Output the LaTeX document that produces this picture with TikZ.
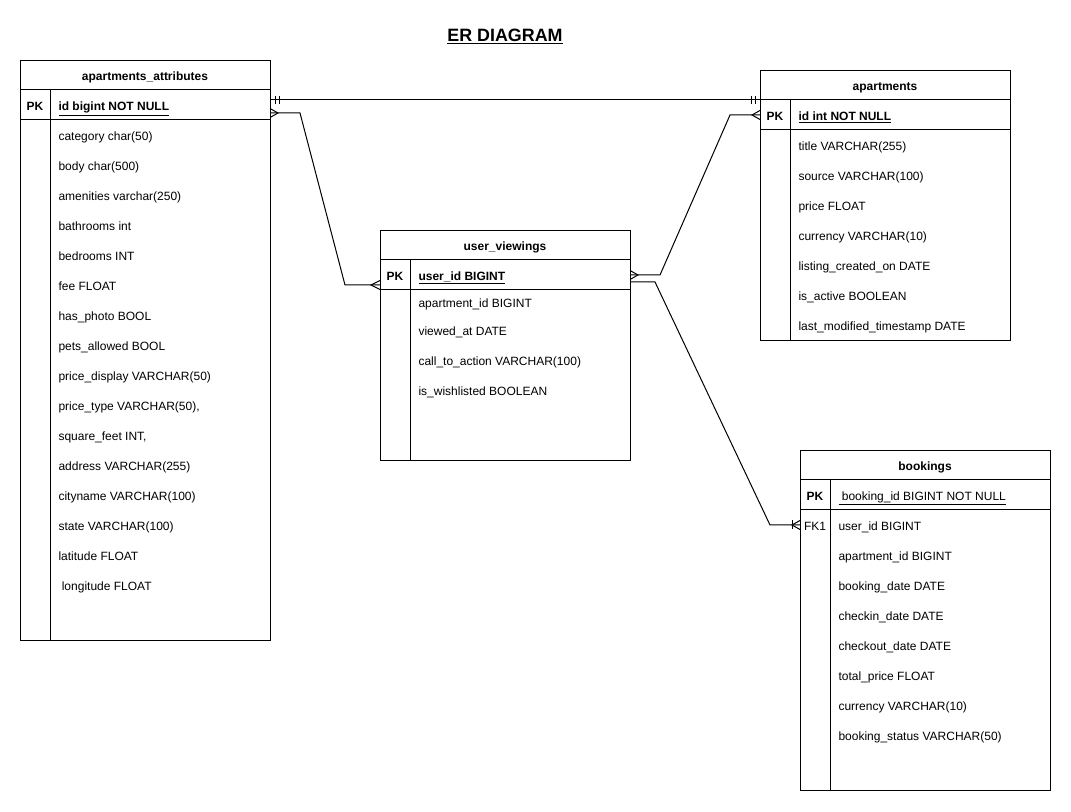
\documentclass[tikz,border=0pt]{standalone}
\usepackage{fontspec}
\setmainfont{Liberation Sans}
\usetikzlibrary{calc}
\newcommand\ertable[7]{% #1 name, #2 x, #3 y, #4 height px, #5 title, #6 key label, #7 key text
  \node[frame, minimum height={#4*0.75pt}] (#1) at (#2,#3) {};
  \draw (#2,#3+30) -- ++(250,0);
  \draw (#2,#3+60) -- ++(250,0);
  \draw (#2+30,#3+30) -- (#2+30,#3+#4);
  \node[hdr] (#1-title) at (#2+125,#3+15) {#5};
  \node[hdr] (#1-pk) at (#2+15,#3+45) {#6};
  \node[txt] (#1-key) at (#2+38,#3+45) {#7};
}
% crow's foot: #1 end point, #2 signed length towards the tip
\newcommand\crowfoot[2]{%
  \draw ($(#1)+(0,-4.5)$) -- ($(#1)+(#2,0)$) -- ($(#1)+(0,4.5)$);
}
\begin{document}
\begin{tikzpicture}[x=0.75pt,y=-0.75pt, line width=0.75pt,
  frame/.style={draw, anchor=north west, minimum width=187.5pt, inner sep=0},
  txt/.style={anchor=west, inner sep=0, yshift=-1.7pt, font=\fontsize{9}{11}\selectfont, text height=6.6pt, text depth=1.9pt},
  hdr/.style={inner sep=0, yshift=-1.7pt, font=\bfseries\fontsize{9}{11}\selectfont, text height=6.6pt, text depth=1.9pt}]
\useasboundingbox (0,0) rectangle (1071,812);

\node[font=\bfseries\fontsize{13.4}{15}\selectfont, inner sep=0, yshift=-1.4pt] (title) at (505,35) {\underline{ER DIAGRAM}};

% apartments_attributes
\ertable{aa}{20}{60}{580}{apartments\_attributes}{PK}{\textbf{\underline{id bigint NOT NULL}}}
\foreach \t [count=\i] in {category char(50), body char(500), amenities varchar(250), bathrooms int, bedrooms INT, fee FLOAT, has\_photo BOOL, pets\_allowed BOOL, price\_display VARCHAR(50), {price\_type VARCHAR(50),}, {square\_feet INT,}, address VARCHAR(255), cityname VARCHAR(100), state VARCHAR(100), latitude FLOAT, \ longitude FLOAT}
  \node[txt] (aa-r\i) at (58,105+30*\i) {\t};

% apartments
\ertable{ap}{760}{70}{270}{apartments}{PK}{\textbf{\underline{id int NOT NULL}}}
\foreach \t [count=\i] in {title VARCHAR(255), source VARCHAR(100), price FLOAT, currency VARCHAR(10), listing\_created\_on DATE, is\_active BOOLEAN, last\_modified\_timestamp DATE}
  \node[txt] (ap-r\i) at (798,115+30*\i) {\t};

% user_viewings
\ertable{uv}{380}{230}{230}{user\_viewings}{PK}{\textbf{\underline{user\_id BIGINT}}}
\node[txt] (uv-r1) at (418,302) {apartment\_id BIGINT};
\node[txt] (uv-r2) at (418,330) {viewed\_at DATE};
\node[txt] (uv-r3) at (418,360) {call\_to\_action VARCHAR(100)};
\node[txt] (uv-r4) at (418,390) {is\_wishlisted BOOLEAN};

% bookings
\ertable{bk}{800}{450}{340}{bookings}{PK}{\underline{\ booking\_id BIGINT NOT NULL}}
\foreach \t [count=\i] in {user\_id BIGINT, apartment\_id BIGINT, booking\_date DATE, checkin\_date DATE, checkout\_date DATE, total\_price FLOAT, currency VARCHAR(10), booking\_status VARCHAR(50)}
  \node[txt] (bk-r\i) at (838,495+30*\i) {\t};
\node[txt, anchor=center] (bk-fk) at (815,525) {FK1};

% connector end points
\coordinate (aa-one) at (270,100);
\coordinate (ap-one) at (760,100);
\coordinate (aa-many) at (270,113);
\coordinate (uv-manyL) at (380,285);
\coordinate (uv-manyR) at (630,275);
\coordinate (ap-many) at (760,115);
\coordinate (uv-out) at (630,282);
\coordinate (bk-in) at (800,525);

% 1: apartments_attributes -- apartments (one to one)
\draw (aa-one) -- (ap-one);
\draw ($(aa-one)+(5,-4)$) -- ++(0,8) ($(aa-one)+(9,-4)$) -- ++(0,8);
\draw ($(ap-one)+(-9,-4)$) -- ++(0,8) ($(ap-one)+(-5,-4)$) -- ++(0,8);

% 2: apartments_attributes -- user_viewings (many to many)
\draw (aa-many) -- ++(30,0) -- ($(uv-manyL)+(-35,0)$) -- (uv-manyL);
\crowfoot{aa-many}{8}
\crowfoot{uv-manyL}{-9}

% 3: user_viewings -- apartments (many to many)
\draw (uv-manyR) -- ++(30,0) -- ($(ap-many)+(-30,0)$) -- (ap-many);
\crowfoot{uv-manyR}{8}
\crowfoot{ap-many}{-8}

% 4: user_viewings -- bookings (one or many)
\draw (uv-out) -- ++(25,0) -- ($(bk-in)+(-30,0)$) -- (bk-in);
\crowfoot{bk-in}{-8}
\draw ($(bk-in)+(-8,-4.5)$) -- ++(0,9);
\end{tikzpicture}
\end{document}
